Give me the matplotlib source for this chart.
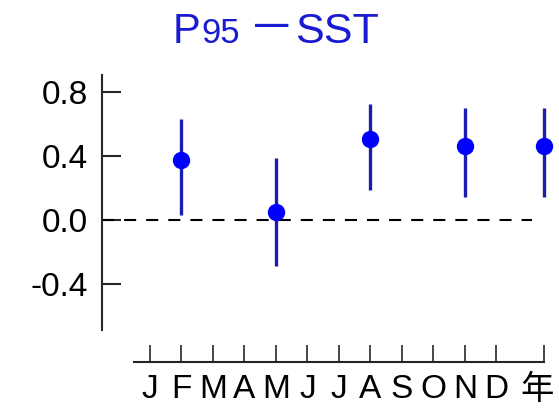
import numpy as np
import matplotlib.pyplot as plt
from matplotlib.transforms import ScaledTranslation

plt.rcParams['font.family'] = ['Liberation Sans', 'Noto Sans CJK SC']

# month axis labels, annual value sits after December
tick_pos = [1, 2, 3, 4, 5, 6, 7, 8, 9, 10, 11, 12, 13.5]
tick_lab = ['J', 'F', 'M', 'A', 'M', 'J', 'J', 'A', 'S', 'O', 'N', 'D', '年']

# correlation and confidence range
x_pts = [2, 5, 8, 11, 13.5]
corr = [0.375, 0.05, 0.505, 0.46, 0.46]
low = [0.03, -0.29, 0.19, 0.145, 0.145]
high = [0.63, 0.39, 0.725, 0.70, 0.70]

corr = np.array(corr)
yerr = [corr - np.array(low), np.array(high) - corr]

fig = plt.figure(figsize=(5.59, 4.08), dpi=100)
ax = fig.add_axes([102/559, 36/408, 451/559, 304/408])
ax.set_xlim(-0.52, 13.8)
ax.set_ylim(-0.95, 0.95)

ax.hlines(0, -0.52, 13.13, colors='black', lw=1.5, linestyles=(0, (5.8, 4.8)))
ax.errorbar(x_pts, corr, yerr=yerr, fmt='o', color='#0000ff', ms=11.5,
            ecolor='#1c1cb0', elinewidth=2.4, capsize=0, zorder=3)

axcol = '#262626'
for s in ['top', 'right']:
    ax.spines[s].set_visible(False)
ax.spines['left'].set_bounds(-0.69, 0.906)
ax.spines['left'].set_linewidth(1.5)
ax.spines['left'].set_color(axcol)
ax.spines['bottom'].set_position(('data', -0.8875))
ax.spines['bottom'].set_bounds(0.51, 13.5)
ax.spines['bottom'].set_linewidth(1.5)
ax.spines['bottom'].set_color(axcol)

ax.set_yticks([-0.4, 0.0, 0.4, 0.8])
ax.set_yticklabels(['-0.4', '0.0', '0.4', '0.8'])
ax.set_xticks(tick_pos)
ax.set_xticklabels(tick_lab)
ax.tick_params(axis='y', direction='in', length=13.5, width=1.5, color=axcol,
               pad=10, labelsize=24)
ax.tick_params(axis='x', direction='in', length=12, width=1.2, color=axcol,
               pad=9, labelsize=24)
# nudge the annual label a little to the left
lab = ax.get_xticklabels()[-1]
lab.set_transform(lab.get_transform() + ScaledTranslation(-0.06, 0, fig.dpi_scale_trans))

# title drawn in pieces: smaller digits after P, dash raised to mid height
blue = '#1a1ad2'
ty = 1 - 43/408
fig.text(173/559, ty, 'P', fontsize=30, color=blue, va='baseline')
fig.text(201/559, ty, '95', fontsize=25, color=blue, va='baseline')
fig.text(255/559, ty + 9/408, '—', fontsize=24, color=blue, va='baseline',
         fontweight='bold')
fig.text(295/559, ty, 'SST', fontsize=31, color=blue, va='baseline')

plt.savefig('out.png', dpi=100)
